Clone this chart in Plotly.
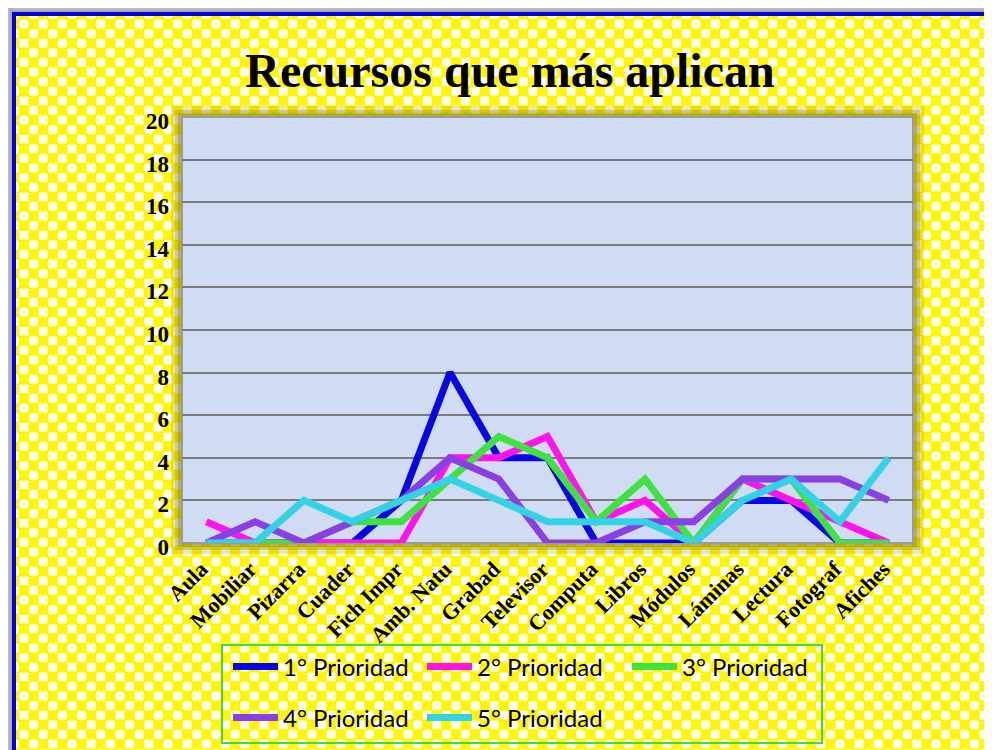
import base64

import plotly.graph_objects as go

categorias = [
    "Aula", "Mobiliar", "Pizarra", "Cuader", "Fich Impr", "Amb. Natu", "Grabad",
    "Televisor", "Computa", "Libros", "Módulos", "Láminas", "Lectura", "Fotograf", "Afiches",
]
prioridad_1 = [0, 0, 0, 0, 2, 8, 4, 4, 0, 0, 0, 2, 2, 0, 0]
prioridad_2 = [1, 0, 0, 0, 0, 4, 4, 5, 1, 2, 0, 3, 2, 1, 0]
prioridad_3 = [0, 0, 0, 1, 1, 3, 5, 4, 1, 3, 0, 3, 3, 0, 0]
prioridad_4 = [0, 1, 0, 1, 2, 4, 3, 0, 0, 1, 1, 3, 3, 3, 2]
prioridad_5 = [0, 0, 2, 1, 2, 3, 2, 1, 1, 1, 0, 2, 3, 1, 4]

nombres = ["1° Prioridad", "2° Prioridad", "3° Prioridad", "4° Prioridad", "5° Prioridad"]
colores = ["#0505E6", "#FF14EE", "#3FE33F", "#8A3FE3", "#33D3E6"]
valores = [prioridad_1, prioridad_2, prioridad_3, prioridad_4, prioridad_5]
y_ticks = list(range(0, 21, 2))

W, H = 992, 750
# la pagina html deja 8px de margen en el body; la figura se reduce para no desbordar
OFF = 8
FW, FH = W - OFF, H - OFF
PLOT_L, PLOT_R, PLOT_T, PLOT_B = 182, 913, 117, 543
PW, PH = PLOT_R - PLOT_L, PLOT_B - PLOT_T
SERIF = "Liberation Serif, Times New Roman, serif"


def px_x(x):
    return (x - PLOT_L) / PW


def px_y(y):
    return (PLOT_B - y) / PH


# fondo a cuadros amarillo/blanco con marco azul (arriba e izquierda)
svg = f"""<svg xmlns="http://www.w3.org/2000/svg" width="{W}" height="{H}" viewBox="0 0 {W} {H}" preserveAspectRatio="none">
<defs>
<linearGradient id="gt" x1="0" y1="0" x2="0" y2="1"><stop offset="0" stop-color="#f6f6f8"/><stop offset="1" stop-color="#a4a4aa"/></linearGradient>
<linearGradient id="gl" x1="0" y1="0" x2="1" y2="0"><stop offset="0" stop-color="#f6f6f8"/><stop offset="1" stop-color="#a4a4aa"/></linearGradient>
<pattern id="ck" width="19.2" height="19.2" patternUnits="userSpaceOnUse">
<rect width="19.2" height="19.2" fill="#FFF700"/>
<rect x="0.4" y="0.4" width="8.8" height="8.8" rx="1.5" fill="#FFFFFF"/>
<rect x="10" y="10" width="8.8" height="8.8" rx="1.5" fill="#FFFFFF"/>
</pattern>
</defs>
<rect width="{W}" height="{H}" fill="url(#ck)"/>
<rect x="0" y="0" width="{W}" height="12" fill="url(#gt)"/>
<rect x="0" y="0" width="12" height="{H}" fill="url(#gl)"/>
<rect x="12" y="12" width="{W - 12}" height="4" fill="#0000DD"/>
<rect x="12" y="12" width="4" height="{H - 12}" fill="#0000DD"/>
</svg>"""
fondo = "data:image/svg+xml;base64," + base64.b64encode(svg.encode()).decode()

fig = go.Figure()
for i, (nombre, color, ys) in enumerate(zip(nombres, colores, valores)):
    fig.add_trace(
        go.Scatter(
            x=categorias,
            y=ys,
            name=nombre,
            mode="lines",
            line=dict(color=color, width=7),
            cliponaxis=False,
            legend="legend" if i == 0 else f"legend{i + 1}",
        )
    )

leg_font = dict(family="Lato, Noto Sans, sans-serif", size=24, color="#000000")


def leyenda(x_px, y_px):
    return dict(
        x=px_x(x_px), y=px_y(y_px), xanchor="left", yanchor="middle",
        bgcolor="rgba(0,0,0,0)", borderwidth=0, font=leg_font, itemwidth=45,
    )


# sombra difusa alrededor del area de trazado
sombra = []
for d, a in [(11, 0.22), (7, 0.3), (4, 0.4)]:
    sombra.append(
        dict(type="rect", xref="paper", yref="paper", layer="below",
             x0=px_x(PLOT_L - d), x1=px_x(PLOT_R + d), y0=px_y(PLOT_B + d), y1=px_y(PLOT_T - d),
             fillcolor=f"rgba(150,140,0,{a})", line=dict(width=0))
    )

fig.update_layout(
    width=FW,
    height=FH,
    margin=dict(l=PLOT_L - OFF, r=W - PLOT_R, t=PLOT_T - OFF, b=H - PLOT_B, autoexpand=False),
    paper_bgcolor="#FFF700",
    plot_bgcolor="rgba(0,0,0,0)",
    title=dict(
        text="Recursos que más aplican",
        x=px_x(510), xref="paper", xanchor="center",
        y=1 - (70 - OFF) / FH, yref="container", yanchor="middle",
        font=dict(family=SERIF, size=48, color="black", weight="bold"),
    ),
    xaxis=dict(
        type="category",
        range=[-0.5, len(categorias) - 0.5],
        showgrid=False,
        zeroline=False,
        showline=False,
        ticks="",
        tickangle=-45,
        ticklabelstandoff=8,
        ticklabelshift=-5,
        tickfont=dict(family=SERIF, size=22, color="black", weight="bold"),
    ),
    yaxis=dict(
        range=[0, 20],
        tickvals=y_ticks,
        showgrid=True,
        gridcolor="#7b7b7e",
        gridwidth=1.5,
        zeroline=False,
        showline=False,
        ticks="",
        ticklabelstandoff=12,
        ticklabelshift=4,
        tickfont=dict(family=SERIF, size=23, color="black", weight="bold"),
    ),
    legend=leyenda(228, 667),
    legend2=leyenda(422, 667),
    legend3=leyenda(627, 667),
    legend4=leyenda(228, 718),
    legend5=leyenda(422, 718),
    images=[
        dict(
            source=fondo, xref="paper", yref="paper",
            x=px_x(0), y=px_y(0), sizex=W / PW, sizey=H / PH,
            xanchor="left", yanchor="top", sizing="stretch", layer="below",
        )
    ],
    shapes=sombra + [
        dict(type="rect", xref="paper", yref="paper", layer="below",
             x0=0, x1=1, y0=0, y1=1,
             fillcolor="#D0DCF4", line=dict(color="#9a9aa6", width=2)),
        # marco de la leyenda
        dict(type="rect", xref="paper", yref="paper", layer="below",
             x0=px_x(222), x1=px_x(822), y0=px_y(743), y1=px_y(645),
             fillcolor="rgba(0,0,0,0)", line=dict(color="#44D844", width=2)),
    ],
    showlegend=True,
)

fig.write_html("out.html")
